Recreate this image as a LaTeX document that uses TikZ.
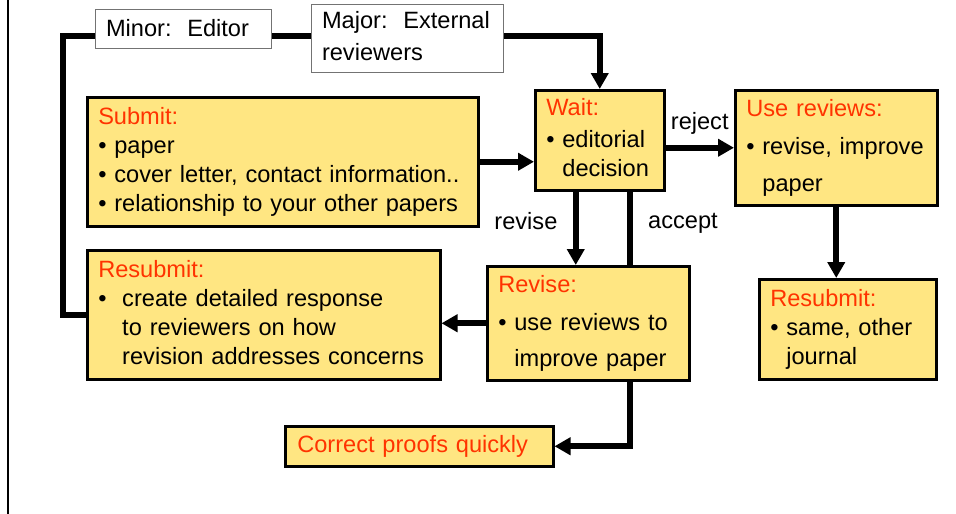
\documentclass[tikz,border=0pt]{standalone}
\usepackage{fontspec}
\setmainfont{Liberation Sans}
\usepackage{xcolor}
\usepackage{tikz}
\usetikzlibrary{calc}
\usetikzlibrary{arrows.meta}
\usetikzlibrary{backgrounds}
\definecolor{note-yellow}{RGB}{255, 230, 130}
\definecolor{note-red}{RGB}{255, 51, 0}
\newcommand{\notefont}{\fontsize{23.6}{29}\selectfont\frenchspacing}
\newcommand{\notetitle}[1]{{\color{note-red}#1}}
\newcommand{\notelines}[1]{\begin{tabular}{@{}l@{}}#1\end{tabular}}

\begin{document}
\begin{tikzpicture}[x = 1pt, y = -1pt,
    stepnote/.style = {draw, line width = 2.5pt, fill = note-yellow, anchor = north west,
      align = left, inner xsep = 11pt, inner ysep = 0pt, font = \notefont},
    tagnote/.style = {draw = black!55, line width = 1pt, fill = white, anchor = north west,
      align = left, inner xsep = 10.5pt, inner ysep = 0pt, font = \notefont},
    flowline/.style = {line width = 6pt},
    flowarrow/.style = {line width = 6pt, -{Triangle[length = 16pt, width = 17pt]}},
    flowlabel/.style = {font = \notefont}]
          \useasboundingbox (0, 0) rectangle (956, 514);
          \draw[line width = 2.5pt] (8, 0) -- (8, 514);

          \node[tagnote, text width = 155pt, minimum height = 39pt] (minor) at (95, 9)
            {\notelines{\raisebox{-2pt}{Minor:\ \ Editor}}};
          \node[tagnote, text width = 171pt, minimum height = 68pt] (major) at (311, 4)
            {\notelines{Major:\ \ External\\[3pt]reviewers}};

          \node[stepnote, text width = 369pt, minimum height = 129pt] (submit) at (86, 96)
            {\notelines{\notetitle{Submit:}\\
             • paper\\
             • cover letter, contact information..\\
             • relationship to your other papers}};
          \node[stepnote, text width = 107pt, minimum height = 100pt] (wait) at (534, 89)
            {\notelines{\notetitle{Wait:}\\[3pt]
             • editorial\\
             \phantom{• }decision}};
          \node[stepnote, text width = 180pt, minimum height = 115pt] (usereviews) at (734, 89)
            {\notelines{\notetitle{Use reviews:}\\[9pt]
             • revise, improve\\[8pt]
             \phantom{• }paper}};
          \node[stepnote, text width = 155pt, minimum height = 100pt] (resubother) at (758, 278)
            {\notelines{\notetitle{Resubmit:}\\
             • same, other\\
             \phantom{• }journal}};
          \node[stepnote, text width = 180pt, minimum height = 114pt] (revise) at (486, 265)
            {\notelines{\notetitle{Revise:}\\[9pt]
             • use reviews to\\[7pt]
             \phantom{• }improve paper}};
          \node[stepnote, text width = 331pt, minimum height = 129pt] (resubmit) at (86, 249)
            {\notelines{\notetitle{Resubmit:}\\
             •\ \ create detailed response\\
             \phantom{•\ \ }to reviewers on how\\
             \phantom{•\ \ }revision addresses concerns}};
          \node[stepnote, text width = 244pt, minimum height = 40pt, inner xsep = 12pt] (proofs) at (284, 425)
            {\notelines{\notetitle{Correct proofs quickly}}};

          \coordinate (bend) at (63, 36);

          \draw[flowline] (resubmit.west) -| (bend) -- (bend -| minor.west);
          \draw[flowline] (minor.east |- bend) -- (major.west |- bend);
          \draw[flowarrow] (major.east |- bend) -| (wait.north);

          \draw[flowarrow] (submit.east) -- (submit.east -| wait.west);
          \draw[flowarrow] (wait.east |- usereviews.west) -- (usereviews.west)
            node[flowlabel, midway, above = 7pt] (rejectlabel) {reject};
          \draw[flowarrow] (usereviews.south) -- (usereviews.south |- resubother.north);
          \draw[flowarrow] ([xshift = -24pt]wait.south) -- ([xshift = -24pt]wait.south |- revise.north)
            node[flowlabel, pos = 0.4, left = 12pt] (reviselabel) {revise};
          \begin{pgfonlayer}{background}
            \draw[flowarrow] ([xshift = 30pt]wait.south) |- (proofs.east);
          \end{pgfonlayer}
          \node[flowlabel] (acceptlabel) at (683, 223) {accept};
          \draw[flowarrow] (revise.west) -- (revise.west -| resubmit.east);
        \end{tikzpicture}
\end{document}
